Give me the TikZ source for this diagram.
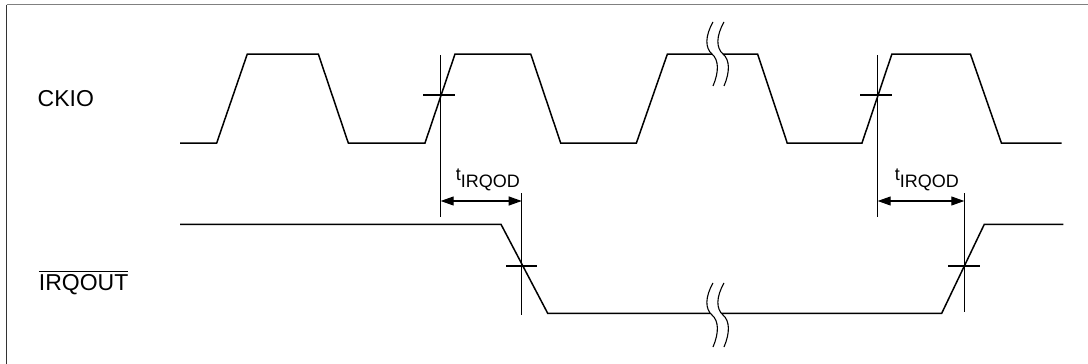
\documentclass[tikz,border=0pt]{standalone}
\usepackage{fontspec}
\setmainfont{Liberation Sans}
\usetikzlibrary{arrows.meta}

\newcommand{\tirqod}{t\raisebox{-3.3pt}{IRQOD}}

\tikzset{
  wave/.style={line width=0.75pt, line join=miter},
  tickline/.style={line width=0.55pt},
  dimarrow/.style={line width=0.55pt, {Triangle[length=6.5pt,width=4.5pt]}-{Triangle[length=6.5pt,width=4.5pt]}},
  siglabel/.style={anchor=base west, inner sep=0pt, font=\fontsize{11.5}{13.8}\selectfont},
  timelabel/.style={anchor=base west, inner sep=0pt, font=\fontsize{9}{10.8}\selectfont},
  breakmark/.pic={
    \fill[white] (-4,-32) .. controls (-12,-18) and (-12,-6) .. (-5,0) .. controls (2,6) and (2,18) .. (-4,32)
      -- (7,32) .. controls (13,18) and (13,6) .. (6,0) .. controls (-1,-6) and (-1,-18) .. (7,-32) -- cycle;
    \draw[line width=0.55pt] (-4,-32) .. controls (-12,-18) and (-12,-6) .. (-5,0) .. controls (2,6) and (2,18) .. (-4,32);
    \draw[line width=0.55pt] (7,-32) .. controls (-1,-18) and (-1,-6) .. (6,0) .. controls (13,6) and (13,18) .. (7,32);
  }
}

\begin{document}
\begin{tikzpicture}[x=0.5pt, y=-0.5pt]
  \useasboundingbox (0,0) rectangle (1088,364);

  % ==================== FRAME ====================
  \draw[black!50, line width=0.65pt] (6.5,4.7) -- (1088,4.7);
  \draw[black!80, line width=0.8pt] (6.5,4.7) -- (6.5,364);

  % ==================== SIGNAL NAMES ====================
  \node[siglabel] (ckio) at (37.3,106.7) {CKIO};
  \node[siglabel] (irqout) at (38.5,290) {$\overline{\mbox{IRQOUT}}$};

  % ==================== CKIO ====================
  \draw[wave] (180,143) -- (216.7,143) -- (247.3,54) -- (318.3,54) -- (348.3,143)
    -- (425,143) -- (455,54) -- (530.7,54) -- (560.7,143)
    -- (636.4,143) -- (667.4,54) -- (757.6,54) -- (787.2,143)
    -- (862,143) -- (891.9,54) -- (970.4,54) -- (1001.4,143) -- (1061.7,143);
  \pic at (717,54) {breakmark};

  % ==================== IRQOUT ====================
  \draw[wave] (180,224.3) -- (501,224.3) -- (547.7,313.3) -- (941.7,313.3)
    -- (984.3,224.3) -- (1063.3,224.3);
  \pic at (717,315) {breakmark};

  % 参考线 (vertical lines and crossing ticks)
  \draw[tickline] (440.7,55) -- (440.7,217);
  \draw[tickline] (423,95) -- (455,95);
  \draw[tickline] (521.7,193) -- (521.7,315);
  \draw[tickline] (506,266) -- (537.3,266);
  \draw[tickline] (877.7,55) -- (877.7,217);
  \draw[tickline] (860,95) -- (892,95);
  \draw[tickline] (964.3,193) -- (964.3,312);
  \draw[tickline] (948,266) -- (980,266);

  % ==================== DELAY t_IRQOD ====================
  \coordinate (ckA) at (440.7,201);
  \coordinate (irqA) at (521.7,201);
  \coordinate (ckB) at (877.7,201);
  \coordinate (irqB) at (964.3,201);
  \draw[dimarrow] (ckA) -- (irqA);
  \draw[dimarrow] (ckB) -- (irqB);
  \node[timelabel] (tdA) at (455.5,180.7) {\tirqod};
  \node[timelabel] (tdB) at (894.5,180.7) {\tirqod};
\end{tikzpicture}
\end{document}
